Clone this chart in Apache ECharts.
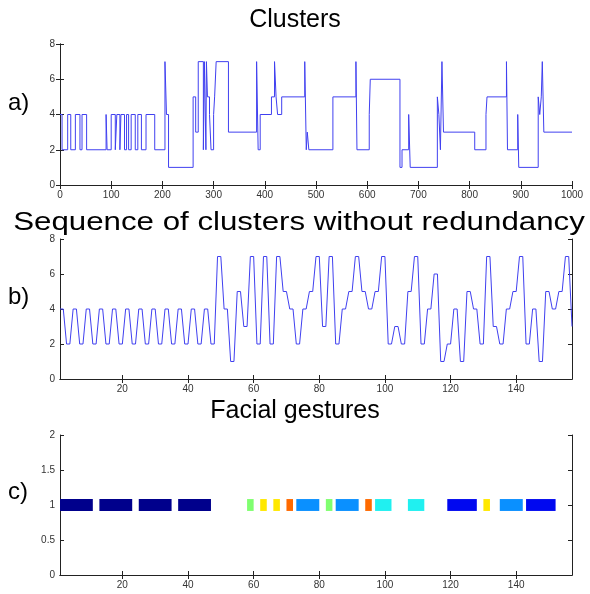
<!DOCTYPE html>
<html>
<head>
<meta charset="utf-8">
<script src="https://cdn.jsdelivr.net/npm/echarts@6/dist/echarts.min.js"></script>
<style>
  html, body { margin: 0; padding: 0; background: #fff; }
  #chart { width: 590px; height: 594px; }
</style>
</head>
<body>
<div id="chart"></div>
<script>
// a) raw cluster labels: each run starts at runStart[i] and keeps runValue[i]
var runStart = [0, 4, 15, 21, 30, 39, 43, 52,
    90, 92, 100, 108, 111, 117, 119, 126, 130, 134, 139, 147, 152, 159, 168, 185,
    205, 208, 212, 260, 265, 270, 280, 282, 285, 286, 288, 292, 295, 300, 302, 305,
    329, 384, 387, 391, 413, 419, 422, 425, 433, 478,
    481, 483, 486, 533, 578, 580, 604, 606, 664, 668,
    681, 684, 737, 740, 743, 746, 749, 810, 832, 834,
    872, 874, 894, 896, 934, 937, 940, 942, 945];
var runValue = [4, 2, 4, 2, 4, 2, 4, 2,
    4, 2, 4, 2, 4, 2, 4, 2, 4, 2, 4, 2, 4, 2, 4, 2,
    7, 4, 1, 5, 3, 7, 2, 7, 2, 7, 5, 4, 2, 4, 5, 7,
    3, 7, 2, 4, 5, 7, 5, 4, 5, 7,
    2, 3, 2, 5, 7, 2, 4, 6, 1, 2,
    4, 1, 5, 4, 2, 7, 3, 2, 4, 5,
    7, 2, 4, 1, 5, 4, 5, 7, 3];
var runEnd = 1000;

// b) sequence of clusters without redundancy (x = 1..157)
var seqValues = [4, 4, 2, 2, 4, 4, 2, 2, 4, 4, 2, 2, 4, 4, 2, 2, 4, 4, 2, 2, 4, 4, 2, 2,
    4, 4, 2, 2, 4, 4, 2, 2, 4, 4, 2, 2, 4, 4, 2, 2, 4, 4, 2, 2, 4, 4, 2, 2,
    7, 7, 4, 4, 1, 1, 5, 5, 3, 3, 7, 7, 2, 2, 7, 7, 2, 2, 7, 7,
    5, 5, 4, 4, 2, 2, 4, 4, 5, 5, 7, 7, 3, 3, 7, 7, 2, 2, 4, 4,
    5, 5, 7, 7, 5, 5, 4, 4, 5, 5, 7, 7, 2, 2, 3, 3, 2, 2, 5, 5,
    7, 7, 2, 2, 4, 4, 6, 6, 1, 1, 2, 2, 4, 4, 1, 1, 5, 5, 4, 4,
    2, 2, 7, 7, 3, 3, 2, 2, 4, 4, 5, 5, 7, 7, 2, 2, 4, 4, 1, 1,
    5, 5, 4, 4, 5, 5, 7, 7, 3];

// c) facial gestures: segments along the sequence index
var gestureStart = [1, 13, 25, 37, 58, 62, 66, 70, 73, 82, 85, 94, 97, 107, 119, 130, 135, 143];
var gestureEnd   = [11, 23, 35, 47, 60, 64, 68, 72, 80, 84, 92, 96, 102, 112, 128, 132, 142, 152];
var gestureColor = ['#00008c', '#00008c', '#00008c', '#00008c', '#80ff70', '#ffe800', '#ffe800', '#ff6a00',
    '#0a90ff', '#80ff70', '#0a90ff', '#ff6a00', '#20f0f0', '#20f0f0', '#0008f0', '#ffe800', '#0a90ff', '#0008f0'];

var seqTicks = [20, 40, 60, 80, 100, 120, 140];

var lineColor = '#4040f0';
var axisColor = '#222';
var labelFont = '"Liberation Sans Narrow", "Liberation Sans", Arial, sans-serif';

var chart = echarts.init(document.getElementById('chart'));

var stepData = [];
for (var i = 0; i < runStart.length; i++) {
    stepData.push([runStart[i], runValue[i]]);
}
stepData.push([runEnd, runValue[runValue.length - 1]]);

var seqData = [];
for (var j = 0; j < seqValues.length; j++) {
    seqData.push([j + 1, seqValues[j]]);
}

var gestureData = [];
for (var k = 0; k < gestureStart.length; k++) {
    gestureData.push([gestureStart[k], gestureEnd[k], 1]);
}

function plainLabel(v) {
    return String(v);
}

function mainX(grid, min, max, extra) {
    var ax = {
        type: 'value', gridIndex: grid, min: min, max: max, position: 'bottom',
        axisLine: { show: true, lineStyle: { color: axisColor, width: 1 } },
        axisTick: { show: true, inside: true, length: 4, lineStyle: { color: axisColor } },
        axisLabel: { show: true, color: '#333', fontSize: 10, fontFamily: labelFont, margin: 5, formatter: plainLabel },
        splitLine: { show: false }
    };
    return Object.assign(ax, extra || {});
}

function topX(grid, min, max, extra) {
    var ax = mainX(grid, min, max, extra);
    ax.position = 'top';
    ax.axisLabel = Object.assign({}, ax.axisLabel, { show: false });
    return ax;
}

function mainY(grid, min, max, interval, side) {
    return {
        type: 'value', gridIndex: grid, min: min, max: max, interval: interval, position: side,
        axisLine: { show: true, lineStyle: { color: axisColor, width: 1 } },
        axisTick: { show: true, inside: true, length: 4, lineStyle: { color: axisColor } },
        axisLabel: { show: side === 'left', color: '#333', fontSize: 10, fontFamily: labelFont, margin: 5, formatter: plainLabel },
        splitLine: { show: false }
    };
}

var seqAxisExtra = {
    axisTick: { show: true, inside: true, length: 4, lineStyle: { color: axisColor }, customValues: seqTicks },
    axisLabel: { show: true, color: '#333', fontSize: 10, fontFamily: labelFont, margin: 5, customValues: seqTicks, formatter: plainLabel }
};

chart.setOption({
    animation: false,
    backgroundColor: '#fff',
    title: [
        { text: 'Clusters', left: 'center', top: 3, textStyle: { fontSize: 25, fontWeight: 'normal', color: '#000', fontFamily: '"Liberation Sans", Arial' } },
        { text: 'Facial gestures', left: 'center', top: 394, textStyle: { fontSize: 25, fontWeight: 'normal', color: '#000', fontFamily: '"Liberation Sans", Arial' } }
    ],
    graphic: [
        { type: 'text', x: 299, y: 223, scaleX: 1.25, style: { text: 'Sequence of clusters without redundancy', font: '25px "Liberation Sans", Arial', fill: '#000', align: 'center', verticalAlign: 'middle' } },
        { type: 'text', x: 8, y: 103, style: { text: 'a)', font: '24px "Liberation Sans", Arial', fill: '#000', verticalAlign: 'middle' } },
        { type: 'text', x: 8, y: 297, style: { text: 'b)', font: '24px "Liberation Sans", Arial', fill: '#000', verticalAlign: 'middle' } },
        { type: 'text', x: 8, y: 492, style: { text: 'c)', font: '24px "Liberation Sans", Arial', fill: '#000', verticalAlign: 'middle' } }
    ],
    grid: [
        { left: 60, top: 44, width: 512, height: 141 },
        { left: 60, top: 239, width: 512, height: 140 },
        { left: 60, top: 435, width: 512, height: 140 }
    ],
    xAxis: [
        mainX(0, 0, 1000, { interval: 100 }),
        topX(0, 0, 1000, { interval: 100 }),
        mainX(1, 1, 157, seqAxisExtra),
        topX(1, 1, 157, seqAxisExtra),
        mainX(2, 1, 157, seqAxisExtra),
        topX(2, 1, 157, seqAxisExtra)
    ],
    yAxis: [
        mainY(0, 0, 8, 2, 'left'),
        mainY(0, 0, 8, 2, 'right'),
        mainY(1, 0, 8, 2, 'left'),
        mainY(1, 0, 8, 2, 'right'),
        mainY(2, 0, 2, 0.5, 'left'),
        mainY(2, 0, 2, 0.5, 'right')
    ],
    series: [
        {
            type: 'line', xAxisIndex: 0, yAxisIndex: 0, data: stepData, step: 'end',
            showSymbol: false, lineStyle: { color: lineColor, width: 1 }, silent: true
        },
        {
            type: 'line', xAxisIndex: 2, yAxisIndex: 2, data: seqData,
            showSymbol: false, lineStyle: { color: lineColor, width: 1 }, silent: true
        },
        {
            type: 'custom', xAxisIndex: 4, yAxisIndex: 4, data: gestureData,
            renderItem: function (params, api) {
                var p0 = api.coord([api.value(0), api.value(2)]);
                var p1 = api.coord([api.value(1), api.value(2)]);
                var h = api.size([0, 0.17])[1];
                return {
                    type: 'rect',
                    shape: { x: p0[0], y: p0[1] - h / 2, width: p1[0] - p0[0], height: h },
                    style: { fill: gestureColor[params.dataIndex] }
                };
            }
        }
    ]
});
</script>
</body>
</html>
